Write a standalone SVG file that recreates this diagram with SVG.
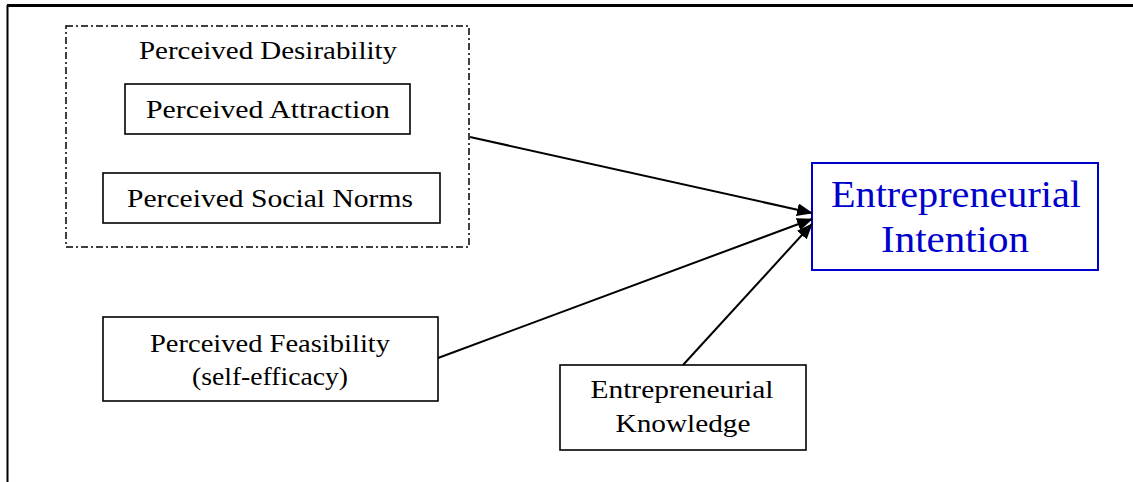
<svg xmlns="http://www.w3.org/2000/svg" width="1133" height="482" viewBox="0 0 1133 482">
<style>
.box{fill:#fff;stroke:#000;stroke-width:1.6}
.t{font-family:"Liberation Serif","Times New Roman",serif;font-size:26px;fill:#000;text-anchor:middle}
.bt{font-family:"Liberation Serif","Times New Roman",serif;font-size:37px;fill:#0000CC;text-anchor:middle}
.con{stroke:#000;stroke-width:2;fill:none;marker-end:url(#arr)}
</style>
<defs>
<marker id="arr" viewBox="0 0 16 13" refX="15" refY="6.5" markerWidth="16" markerHeight="13" markerUnits="userSpaceOnUse" orient="auto">
<path d="M0,0 L16,6.5 L0,13 Z" fill="#000"/>
</marker>
</defs>
<rect width="1133" height="482" fill="#fff"/>
<g id="frame">
<line x1="7" y1="5.5" x2="1133" y2="5.5" stroke="#000" stroke-width="3"/>
<line x1="7.5" y1="5" x2="7.5" y2="482" stroke="#000" stroke-width="2"/>
</g>
<g id="desirability">
<rect x="66" y="26" width="403" height="221" fill="none" stroke="#000" stroke-width="1.5" stroke-dasharray="7 3 2 3"/>
<text class="t" x="268" y="59" textLength="258" lengthAdjust="spacingAndGlyphs">Perceived Desirability</text>
</g>
<g id="attraction">
<rect class="box" x="125" y="84" width="285" height="50"/>
<text class="t" x="268" y="118" textLength="244" lengthAdjust="spacingAndGlyphs">Perceived Attraction</text>
</g>
<g id="socialnorms">
<rect class="box" x="103" y="173" width="337" height="50"/>
<text class="t" x="270" y="207" textLength="286" lengthAdjust="spacingAndGlyphs">Perceived Social Norms</text>
</g>
<g id="feasibility">
<rect class="box" x="103" y="317" width="335" height="84"/>
<text class="t" x="270" y="352" textLength="240" lengthAdjust="spacingAndGlyphs">Perceived Feasibility</text>
<text class="t" x="270" y="385" textLength="156" lengthAdjust="spacingAndGlyphs">(self-efficacy)</text>
</g>
<g id="knowledge">
<rect class="box" x="560" y="365" width="246" height="85"/>
<text class="t" x="682" y="398" textLength="183" lengthAdjust="spacingAndGlyphs">Entrepreneurial</text>
<text class="t" x="683" y="432" textLength="135" lengthAdjust="spacingAndGlyphs">Knowledge</text>
</g>
<g id="intention">
<rect x="812" y="163" width="286" height="107" fill="#fff" stroke="#0000CC" stroke-width="2"/>
<text class="bt" x="956" y="207" textLength="250" lengthAdjust="spacingAndGlyphs">Entrepreneurial</text>
<text class="bt" x="955" y="252" textLength="148" lengthAdjust="spacingAndGlyphs">Intention</text>
</g>
<g id="connectors">
<line class="con" x1="470" y1="137" x2="812" y2="213"/>
<line class="con" x1="438" y1="358" x2="812" y2="219"/>
<line class="con" x1="683" y1="365" x2="812" y2="224"/>
</g>
</svg>
